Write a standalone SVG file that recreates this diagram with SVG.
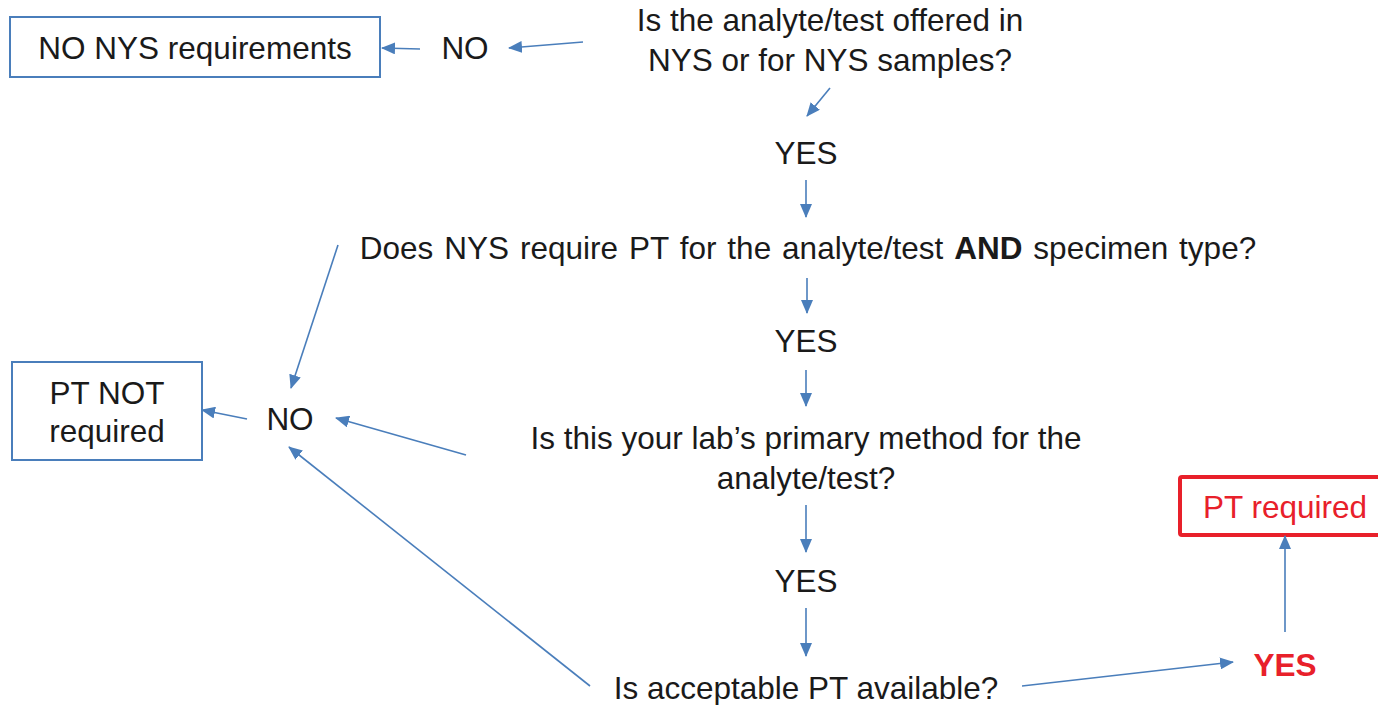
<svg xmlns="http://www.w3.org/2000/svg" width="1378" height="705" viewBox="0 0 1378 705">
<defs>
<marker id="ah" markerWidth="14" markerHeight="12" refX="13" refY="6" orient="auto" markerUnits="userSpaceOnUse">
<path d="M0,0 L14,6 L0,12 Z" fill="#4A7EBB"/>
</marker>
<style>
text{font-family:"Liberation Sans",Arial,sans-serif;font-size:31.5px;fill:#1a1a1a;text-anchor:middle}
.box{fill:#fff;stroke:#4A7EBB;stroke-width:2}
.rbox{fill:#fff;stroke:#E8202A;stroke-width:4}
.red{fill:#E8202A}
.con line{stroke:#4A7EBB;stroke-width:1.6;marker-end:url(#ah)}
</style>
</defs>
<rect width="1378" height="705" fill="#fff"/>
<g id="n-noreq"><rect class="box" x="10" y="17" width="370" height="60"/><text x="195" y="59">NO NYS requirements</text></g>
<g id="n-no1"><text x="465" y="59">NO</text></g>
<g id="n-q1"><text x="830" y="31">Is the analyte/test offered in</text><text x="830" y="71">NYS or for NYS samples?</text></g>
<g id="n-yes1"><text x="806" y="164">YES</text></g>
<g id="n-q2"><text x="808" y="259" word-spacing="2.2">Does NYS require PT for the analyte/test <tspan font-weight="bold">AND</tspan> specimen type?</text></g>
<g id="n-yes2"><text x="806" y="352">YES</text></g>
<g id="n-q3"><text x="806" y="449">Is this your lab’s primary method for the</text><text x="806" y="489">analyte/test?</text></g>
<g id="n-yes3"><text x="806" y="592">YES</text></g>
<g id="n-q4"><text x="806" y="699">Is acceptable PT available?</text></g>
<g id="n-yes4"><text class="red" x="1285" y="676" font-weight="bold">YES</text></g>
<g id="n-ptreq"><rect class="rbox" x="1180" y="477" width="210" height="58" rx="2"/><text class="red" x="1285" y="518">PT required</text></g>
<g id="n-no2"><text x="290" y="430">NO</text></g>
<g id="n-ptnot"><rect class="box" x="12" y="362" width="190" height="98"/><text x="107" y="404">PT NOT</text><text x="107" y="442">required</text></g>
<g class="con" id="connectors">
<line x1="583" y1="42" x2="509" y2="48"/>
<line x1="420" y1="49" x2="382" y2="48"/>
<line x1="830" y1="88" x2="807" y2="116"/>
<line x1="806" y1="180" x2="806" y2="217"/>
<line x1="807" y1="278" x2="807" y2="313"/>
<line x1="806" y1="370" x2="806" y2="406"/>
<line x1="806" y1="505" x2="806" y2="552"/>
<line x1="806" y1="608" x2="806" y2="656"/>
<line x1="1022" y1="686" x2="1233" y2="662"/>
<line x1="1285" y1="632" x2="1285" y2="536"/>
<line x1="247" y1="419" x2="202" y2="410"/>
<line x1="338" y1="245" x2="291" y2="388"/>
<line x1="466" y1="455" x2="336" y2="418"/>
<line x1="590" y1="686" x2="289" y2="447"/>
</g>
</svg>
